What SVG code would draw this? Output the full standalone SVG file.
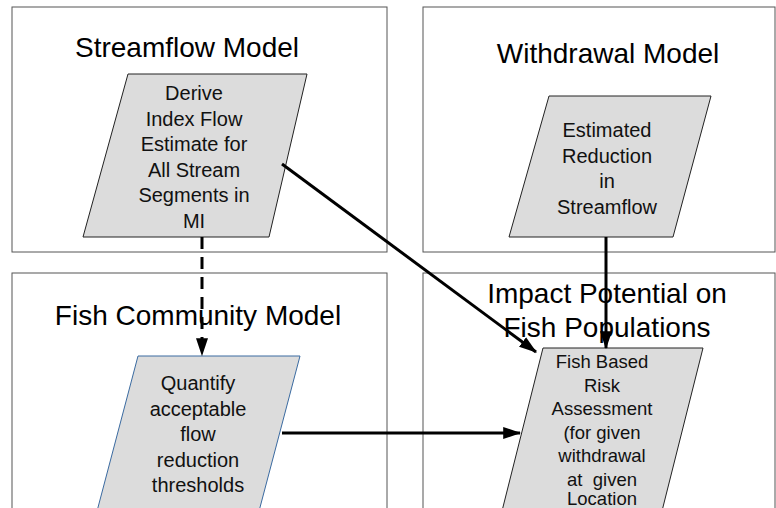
<svg xmlns="http://www.w3.org/2000/svg" width="776" height="508" viewBox="0 0 776 508">
<style>
.box{fill:#fff;stroke:#555;stroke-width:1}
.para{fill:#dcdcdc;stroke:#222;stroke-width:1}
.para-blue{fill:#dcdcdc;stroke:#3a6aa0;stroke-width:1}
.title{font-family:"Liberation Sans",Arial,sans-serif;font-size:28px;fill:#000;text-anchor:middle}
.lbl{font-family:"Liberation Sans",Arial,sans-serif;font-size:20px;fill:#111;text-anchor:middle}
.lbl-s{font-family:"Liberation Sans",Arial,sans-serif;font-size:18.5px;fill:#111;text-anchor:middle;white-space:pre}
.conn{stroke:#000;stroke-width:3;fill:none}
</style>
<defs>
<marker id="arr" markerWidth="6" markerHeight="4" refX="5.6" refY="2" orient="auto" markerUnits="strokeWidth">
<path d="M0,0 L6,2 L0,4 Z" fill="#000"/>
</marker>
</defs>
<rect width="776" height="508" fill="#fff"/>
<g id="streamflow-model">
<rect class="box" x="12" y="7" width="375" height="245"/>
<text class="title" x="187" y="57">Streamflow Model</text>
<polygon class="para" points="128,74 307,74 269,237 83,237"/>
<text class="lbl" x="194" y="100">Derive</text>
<text class="lbl" x="194" y="125.5">Index Flow</text>
<text class="lbl" x="194" y="151">Estimate for</text>
<text class="lbl" x="194" y="176.5">All Stream</text>
<text class="lbl" x="194" y="202">Segments in</text>
<text class="lbl" x="194" y="227.5">MI</text>
</g>
<g id="withdrawal-model">
<rect class="box" x="423" y="7" width="352" height="245"/>
<text class="title" x="608" y="63">Withdrawal Model</text>
<polygon class="para" points="549,96 711,96 673,237 509,237"/>
<text class="lbl" x="607" y="137">Estimated</text>
<text class="lbl" x="607" y="162.5">Reduction</text>
<text class="lbl" x="607" y="188">in</text>
<text class="lbl" x="607" y="213.5">Streamflow</text>
</g>
<g id="fish-community-model">
<rect class="box" x="12" y="273" width="375" height="240"/>
<text class="title" x="198" y="325">Fish Community Model</text>
<polygon class="para-blue" points="138,356 300,356 258,515 96,515"/>
<text class="lbl" x="198" y="390">Quantify</text>
<text class="lbl" x="198" y="415.5">acceptable</text>
<text class="lbl" x="198" y="441">flow</text>
<text class="lbl" x="198" y="466.5">reduction</text>
<text class="lbl" x="198" y="492">thresholds</text>
</g>
<g id="impact-potential">
<rect class="box" x="423" y="273" width="352" height="240"/>
<text class="title" x="607" y="303">Impact Potential on</text>
<text class="title" x="607" y="337">Fish Populations</text>
<polygon class="para" points="543,348 703,348 661,515 501,515"/>
<text class="lbl-s" x="602" y="368">Fish Based</text>
<text class="lbl-s" x="602" y="391.5">Risk</text>
<text class="lbl-s" x="602" y="415">Assessment</text>
<text class="lbl-s" x="602" y="438.5">(for given</text>
<text class="lbl-s" x="602" y="462">withdrawal</text>
<text class="lbl-s" x="602" y="485.5" xml:space="preserve">at  given</text>
<text class="lbl-s" x="602" y="505">Location</text>
</g>
<g id="connectors">
<line class="conn" x1="202" y1="237" x2="202" y2="355" stroke-dasharray="12,8" marker-end="url(#arr)"/>
<line class="conn" x1="282" y1="164" x2="536" y2="352" marker-end="url(#arr)"/>
<line class="conn" x1="606" y1="237" x2="606" y2="348" marker-end="url(#arr)"/>
<line class="conn" x1="282" y1="433" x2="520" y2="433" marker-end="url(#arr)"/>
</g>
</svg>
